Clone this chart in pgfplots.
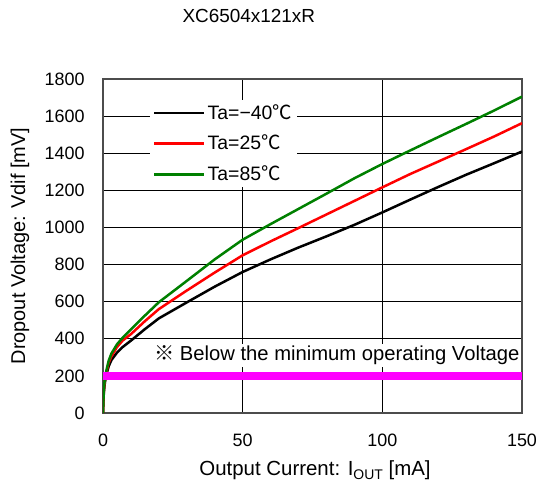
\documentclass[border=0pt]{standalone}
\usepackage{fontspec}
\setmainfont{Liberation Sans}
\newfontfamily\cjk{Noto Sans CJK JP}
\usepackage{pgfplots}
\pgfplotsset{compat=1.18}
\definecolor{cm40}{RGB}{0,0,0}
\definecolor{c25}{RGB}{255,0,0}
\definecolor{c85}{RGB}{0,128,0}
\definecolor{limit}{RGB}{255,0,255}

\begin{document}
\fontsize{19}{22}\selectfont
\begin{tikzpicture}
\path[use as bounding box] (-103bp,-71bp) rectangle (435bp,413bp);
\begin{axis}[
  scale only axis, width=419bp, height=334bp,
  xmin=0, xmax=150, ymin=0, ymax=1800,
  xtick={0,50,100,150}, ytick={0,200,...,1800},
  grid=major, major grid style={black, line width=0.8bp},
  axis line style={black!70, line width=1.5bp},
  tick style={draw=none},
  /pgf/number format/assume math mode=true,
  /pgf/number format/1000 sep={},
  ticklabel style={font=\fontsize{18}{21}\selectfont},
  xticklabel style={yshift=-14bp},
  yticklabel style={xshift=-12bp},
  title={XC6504x121xR},
  title style={at={(rel axis cs:0.348,1.172)}, anchor=center, font=\fontsize{19}{22}\selectfont},
  xlabel={Output Current: I\raisebox{-0.35ex}{\fontsize{14}{15}\selectfont OUT} [mA]},
  ylabel={Dropout Voltage: Vdif [mV]},
  xlabel style={at={(rel axis cs:0.506,-0.171)}, anchor=center, font=\fontsize{20.5}{23}\selectfont},
  ylabel style={at={(rel axis cs:-0.198,0.5)}, anchor=center, font=\fontsize{20}{23}\selectfont},
  legend style={at={(rel axis cs:0.112,0.937)}, anchor=north west, draw=none, fill=white,
    row sep=9bp, font=\fontsize{19.5}{22}\selectfont},
  legend cell align=left,
  legend image code/.code={\draw[#1, line width=2.6bp] (0bp,0bp) -- (50bp,0bp);},
]
\addplot[cm40, line width=2.5bp] coordinates {
(0,0)(0.3,110)(0.6,155)(1,195)(2,250)(3,285)(5,325)(7,355)(10,390)(15,452)(20,510)(30,596)(40,681)(50,760)(60,828)(70,892)(80,952)(90,1014)(100,1081)(110,1150)(120,1218)(130,1284)(140,1346)(150,1409)};
\addlegendentry{Ta=−40{\cjk ℃}}
\addplot[c25, line width=2.5bp] coordinates {
(0,0)(0.3,120)(0.6,165)(1,205)(2,270)(3,305)(5,355)(7,390)(10,425)(15,495)(20,560)(30,660)(40,757)(50,850)(60,925)(70,997)(80,1070)(90,1143)(100,1216)(110,1288)(120,1355)(130,1422)(140,1490)(150,1562)};
\addlegendentry{Ta=25{\cjk ℃}}
\addplot[c85, line width=2.5bp] coordinates {
(0,0)(0.3,130)(0.6,175)(1,215)(2,280)(3,320)(5,370)(7,405)(10,450)(15,525)(20,597)(30,712)(40,828)(50,934)(60,1018)(70,1100)(80,1182)(90,1265)(100,1342)(110,1415)(120,1487)(130,1558)(140,1630)(150,1705)};
\addlegendentry{Ta=85{\cjk ℃}}
\addplot[limit, line width=8bp, forget plot] coordinates {(0,200)(150,200)};
\node[anchor=west, fill=white, inner sep=2bp, font=\fontsize{20.3}{23}\selectfont] at (axis cs:17.5,312) {{\cjk ※} Below the minimum operating Voltage};
\end{axis}
\end{tikzpicture}
\end{document}
